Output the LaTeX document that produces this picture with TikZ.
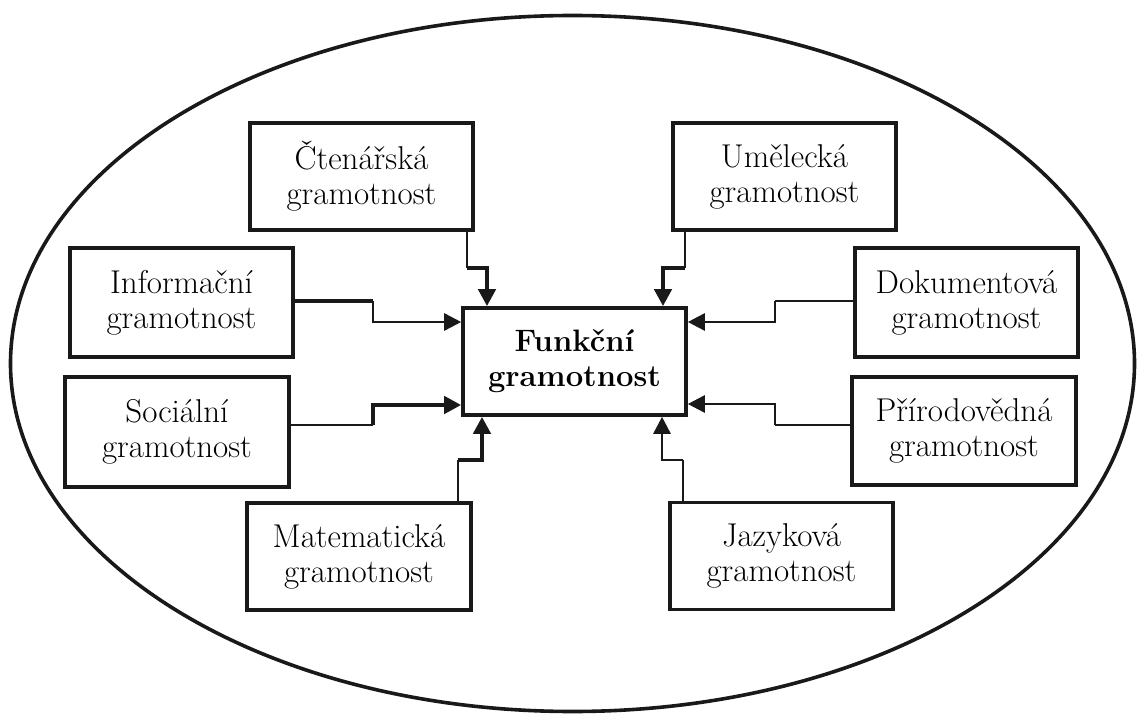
\documentclass[tikz,border=0pt]{standalone}
\usetikzlibrary{arrows.meta}
\begin{document}
\begin{tikzpicture}[x=1pt,y=-1pt,
  box/.style={draw=black!90, line width=3.6pt, inner sep=0pt, align=center,
    minimum width=223pt, minimum height=107pt,
    font=\fontsize{33}{35}\selectfont},
  thinln/.style={draw=black!90, line width=2.6pt},
  thickln/.style={draw=black!90, line width=4.6pt},
  arr/.style={-{Triangle[length=17pt,width=17pt]}},
  ring/.style={draw=black!90, line width=3.6pt}]
\useasboundingbox (0,0) rectangle (1138,722);
\draw[ring] (572.5,363.5) ellipse [x radius=562, y radius=348];

\node[box] (ct) at (361.5,176.5) {Čtenářská\\gramotnost};
\node[box] (um) at (784.5,176.5) {Umělecká\\gramotnost};
\node[box, minimum height=109pt] (inf) at (181.5,302.5) {Informační\\gramotnost};
\node[box, minimum height=109pt] (dok) at (966.5,302.5) {Dokumentová\\gramotnost};
\node[box, minimum width=224pt, minimum height=110pt] (soc) at (177,432) {Sociální\\gramotnost};
\node[box, minimum width=224pt, minimum height=108pt] (pri) at (964,431) {Přírodovědná\\gramotnost};
\node[box, minimum width=224pt] (mat) at (359,556.5) {Matematická\\gramotnost};
\node[box] (jaz) at (781.5,556) {Jazyková\\gramotnost};
\node[box, font=\fontsize{31}{35}\selectfont\bfseries] (fun) at (574.5,361.5) {Funkční\\gramotnost};

% Čtenářská
\coordinate (c1) at (467,268);
\coordinate (c2) at (487,268);
\draw[thinln] (ct.south -| c1) -- (c1);
\draw[thickln, arr] (c1) -- (c2) -- (c2 |- fun.north);
% Umělecká
\coordinate (u1) at (685,268);
\coordinate (u2) at (663,268);
\draw[thinln] (um.south -| u1) -- (u1);
\draw[thickln, arr] (u1) -- (u2) -- (u2 |- fun.north);
% Informační
\coordinate (i1) at (373,301);
\coordinate (i2) at (373,322);
\draw[thickln] (inf.east |- i1) -- (i1);
\draw[thinln, arr] (i1) -- (i2) -- (fun.west |- i2);
% Dokumentová
\coordinate (d1) at (775,301);
\coordinate (d2) at (775,322);
\draw[thinln] (dok.west |- d1) -- (d1);
\draw[thinln, arr] (d1) -- (d2) -- (fun.east |- d2);
% Sociální
\coordinate (s1) at (373,425);
\coordinate (s2) at (373,405);
\draw[thinln] (soc.east |- s1) -- (s1);
\draw[thickln, arr] (s1) -- (s2) -- (fun.west |- s2);
% Přírodovědná
\coordinate (p1) at (775,425);
\coordinate (p2) at (775,404);
\draw[thinln] (pri.west |- p1) -- (p1);
\draw[thinln, arr] (p1) -- (p2) -- (fun.east |- p2);
% Matematická
\coordinate (m1) at (458,460);
\coordinate (m2) at (482,460);
\draw[thinln] (mat.north -| m1) -- (m1);
\draw[thickln, arr] (m1) -- (m2) -- (m2 |- fun.south);
% Jazyková
\coordinate (j1) at (683,460);
\coordinate (j2) at (662,460);
\draw[thinln] (jaz.north -| j1) -- (j1);
\draw[thinln, arr] (j1) -- (j2) -- (j2 |- fun.south);
\end{tikzpicture}
\end{document}
